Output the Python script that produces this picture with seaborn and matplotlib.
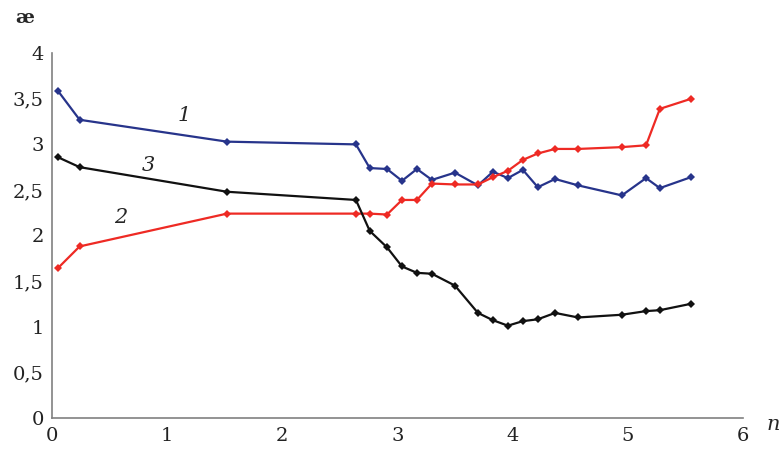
import numpy as np
import pandas as pd
from matplotlib import pyplot as plt
import seaborn as sns

# значения n (общие для всех трёх кривых)
n_vals = [0.05, 0.24, 1.52, 2.64, 2.76, 2.91, 3.04, 3.17, 3.30, 3.50, 3.70,
          3.83, 3.96, 4.09, 4.22, 4.37, 4.57, 4.95, 5.16, 5.28, 5.55]
curve1 = [3.59, 3.27, 3.03, 3.00, 2.74, 2.73, 2.60, 2.73, 2.61, 2.69, 2.55,
          2.70, 2.63, 2.72, 2.53, 2.62, 2.55, 2.44, 2.63, 2.52, 2.64]
curve2 = [1.64, 1.88, 2.24, 2.24, 2.24, 2.23, 2.39, 2.39, 2.57, 2.56, 2.56,
          2.64, 2.71, 2.83, 2.90, 2.95, 2.95, 2.97, 2.99, 3.39, 3.50]
curve3 = [2.86, 2.75, 2.48, 2.39, 2.05, 1.87, 1.66, 1.59, 1.58, 1.45, 1.15,
          1.07, 1.01, 1.06, 1.08, 1.15, 1.10, 1.13, 1.17, 1.18, 1.25]
curve_names = ['1', '2', '3']
x_ticks = [0, 1, 2, 3, 4, 5, 6]
y_ticks = [0, 0.5, 1, 1.5, 2, 2.5, 3, 3.5, 4]

sns.set_style('white')
plt.rcParams['font.family'] = ['DejaVu Serif']

df = pd.DataFrame({
    'n': n_vals * 3,
    'ae': curve1 + curve2 + curve3,
    'curve': [c for c in curve_names for _ in n_vals],
})
colors = {'1': '#27348b', '2': '#ee2a24', '3': '#111111'}

fig = plt.figure(figsize=(7.81, 4.5), dpi=100)
ax = fig.add_axes([0.0666, 0.0718, 0.8844, 0.8098])

sns.lineplot(data=df, x='n', y='ae', hue='curve', palette=colors, sort=False,
             marker='D', markersize=4.5, markeredgewidth=0, linewidth=1.6,
             legend=False, ax=ax)

ax.set_xlim(0, 6)
ax.set_ylim(0, 4)
ax.set_xticks(x_ticks)
ax.set_yticks(y_ticks)
ax.set_xticklabels([str(t) for t in x_ticks], fontsize=14)
ax.set_yticklabels([('%g' % t).replace('.', ',') for t in y_ticks], fontsize=14)
ax.set_xlabel('')
ax.set_ylabel('')

for s in ['top', 'right']:
    ax.spines[s].set_visible(False)
for s in ['left', 'bottom']:
    ax.spines[s].set_color('#808080')
    ax.spines[s].set_linewidth(1.2)
ax.tick_params(axis='both', colors='#808080', length=4, width=1, labelcolor='#222222')
ax.tick_params(axis='x', pad=3)
ax.tick_params(axis='y', pad=2)

# подписи осей
fig.text(25 / 781, 1 - 18 / 450, 'æ', fontsize=14, fontweight='bold', ha='center', va='center')
fig.text(773 / 781, 1 - 425 / 450, 'n', fontsize=15, style='italic', ha='center', va='center')

# номера кривых
ax.text(1.15, 3.32, '1', fontsize=15, style='italic', ha='center', va='center')
ax.text(0.6, 2.2, '2', fontsize=15, style='italic', ha='center', va='center')
ax.text(0.84, 2.77, '3', fontsize=15, style='italic', ha='center', va='center')

plt.savefig('out.png', dpi=100)
